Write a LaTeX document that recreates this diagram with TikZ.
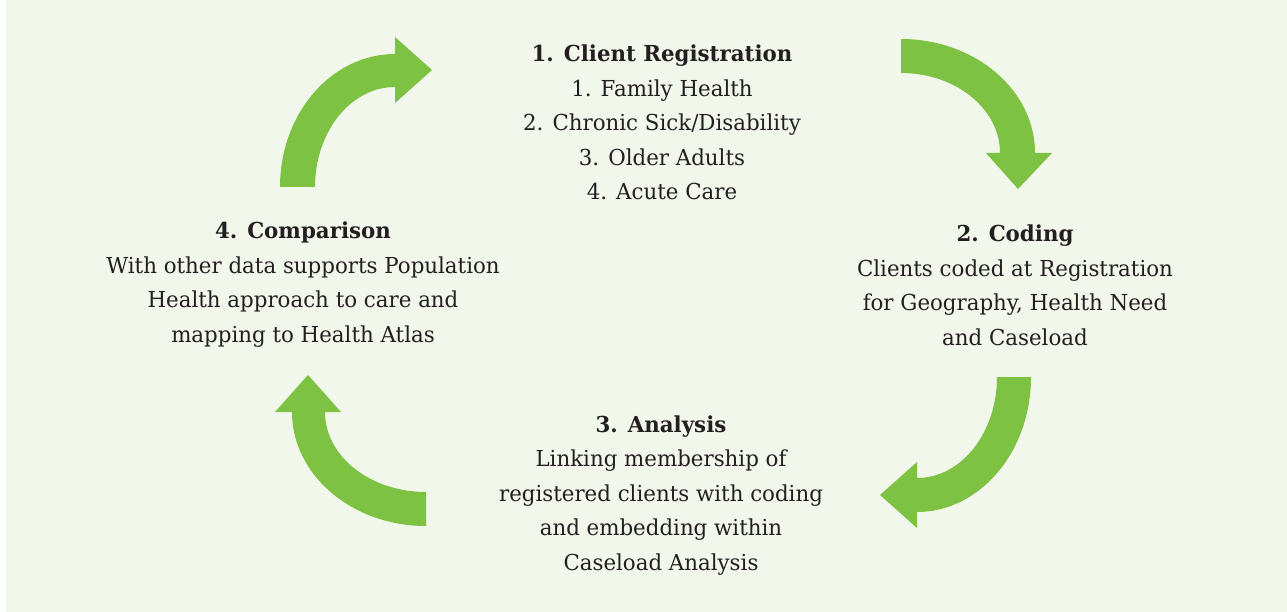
\documentclass[tikz,border=0pt]{standalone}
\usepackage{fontspec}
\setmainfont[FakeStretch=0.97]{DejaVu Serif}
\definecolor{panelbg}{HTML}{F2F7EB}
\definecolor{leaf}{HTML}{7DC242}
\definecolor{ink}{HTML}{231F20}
\begin{document}
\begin{tikzpicture}[x=1pt,y=-1pt,
  bandarrow/.style={fill=leaf,draw=none},
  block/.style={anchor=base,inner sep=0pt,align=center,text=ink,
    font=\fontsize{22}{34.5}\selectfont}]
% canvas
\useasboundingbox (0,0) rectangle (1287,612);
\fill[panelbg] (6,0) rectangle (1287,612);

% curved arrows, clockwise cycle
\fill[bandarrow] (280,187) arc[start angle=180,end angle=90,x radius=115pt,y radius=133pt]
  -- (395,37) -- (432,70) -- (395,103) -- (395,87)
  arc[start angle=90,end angle=180,x radius=80pt,y radius=100pt] -- cycle;
\fill[bandarrow] (901,39) arc[start angle=90,end angle=0,x radius=134pt,y radius=114pt]
  -- (1052,153) -- (1018,189) -- (986,153) -- (1000,153)
  arc[start angle=0,end angle=90,x radius=99pt,y radius=80pt] -- cycle;
\fill[bandarrow] (1031,377) arc[start angle=0,end angle=-90,x radius=114pt,y radius=135pt]
  -- (917,528) -- (880,495) -- (917,462) -- (917,478)
  arc[start angle=-90,end angle=0,x radius=80pt,y radius=101pt] -- cycle;
\fill[bandarrow] (426,526) arc[start angle=270,end angle=180,x radius=134pt,y radius=114pt]
  -- (275,412) -- (308,375) -- (341,412) -- (325,412)
  arc[start angle=180,end angle=270,x radius=101pt,y radius=80pt] -- cycle;

% stage texts (anchored at the baseline of each block's last line)
\node[block] (reg) at (662,200) {\textbf{1. Client Registration}\\
  1. Family Health\\2. Chronic Sick/Disability\\3. Older Adults\\4. Acute Care};
\node[block] (cod) at (1015,345) {\textbf{2. Coding}\\
  Clients coded at Registration\\for Geography, Health Need\\and Caseload};
\node[block] (ana) at (661,570) {\textbf{3. Analysis}\\
  Linking membership of\\registered clients with coding\\and embedding within\\Caseload Analysis};
\node[block] (cmp) at (303,342) {\textbf{4. Comparison}\\
  With other data supports Population\\Health approach to care and\\mapping to Health Atlas};
\end{tikzpicture}
\end{document}
